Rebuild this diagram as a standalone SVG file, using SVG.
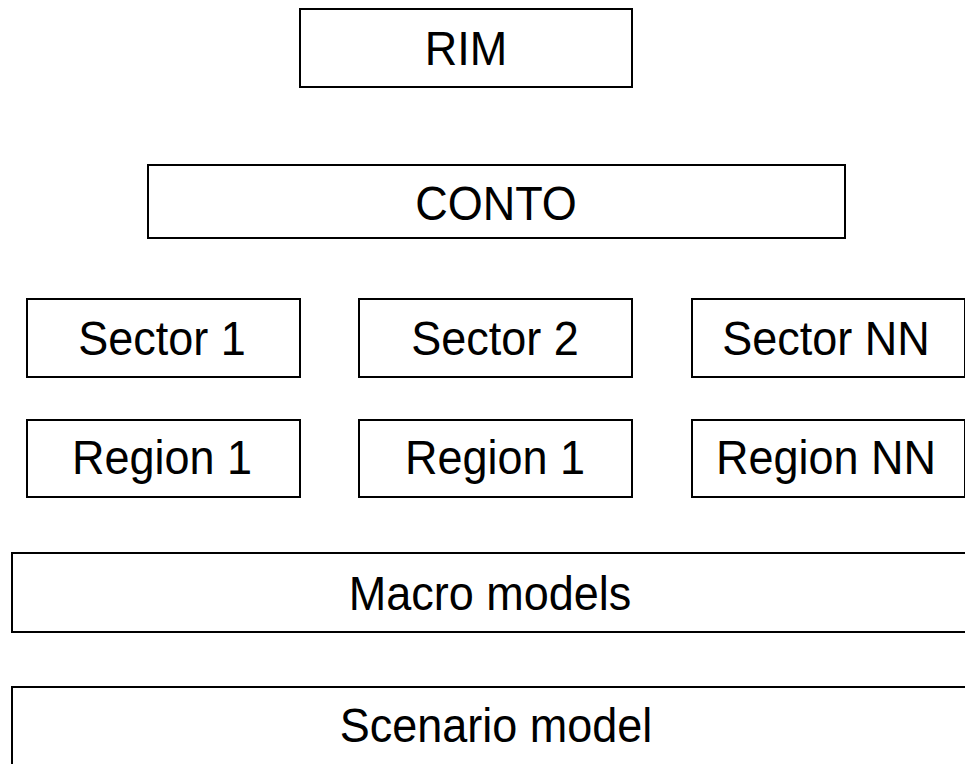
<svg xmlns="http://www.w3.org/2000/svg" width="965" height="764" viewBox="0 0 965 764">
<style>
.box{fill:#fff;stroke:#000;stroke-width:2}
.lbl{font-family:"Liberation Sans",Arial,sans-serif;font-size:45px;fill:#000;text-anchor:middle}
</style>
<rect width="965" height="764" fill="#fff"/>
<g id="connectors"></g>
<g id="rim"><rect class="box" x="300" y="9" width="332" height="78"/><text class="lbl" transform="translate(466,65) scale(1,1.07)">RIM</text></g>
<g id="conto"><rect class="box" x="148" y="165" width="697" height="73"/><text class="lbl" transform="translate(496,220) scale(1,1.07)">CONTO</text></g>
<g id="sector1"><rect class="box" x="27" y="299" width="273" height="78"/><text class="lbl" transform="translate(162,355) scale(1,1.07)">Sector 1</text></g>
<g id="sector2"><rect class="box" x="359" y="299" width="273" height="78"/><text class="lbl" transform="translate(495,355) scale(1,1.07)">Sector 2</text></g>
<g id="sectorNN"><rect class="box" x="692" y="299" width="273" height="78"/><text class="lbl" transform="translate(826,355) scale(1,1.07)">Sector NN</text></g>
<g id="region1"><rect class="box" x="27" y="420" width="273" height="77"/><text class="lbl" transform="translate(162,474) scale(1,1.07)">Region 1</text></g>
<g id="region1b"><rect class="box" x="359" y="420" width="273" height="77"/><text class="lbl" transform="translate(495,474) scale(1,1.07)">Region 1</text></g>
<g id="regionNN"><rect class="box" x="692" y="420" width="273" height="77"/><text class="lbl" transform="translate(826,474) scale(1,1.07)">Region NN</text></g>
<g id="macro"><rect class="box" x="12" y="553" width="962" height="79"/><text class="lbl" transform="translate(490,610) scale(1,1.07)">Macro models</text></g>
<g id="scenario"><rect class="box" x="12" y="687" width="962" height="90"/><text class="lbl" transform="translate(496,742) scale(1,1.07)">Scenario model</text></g>
</svg>
